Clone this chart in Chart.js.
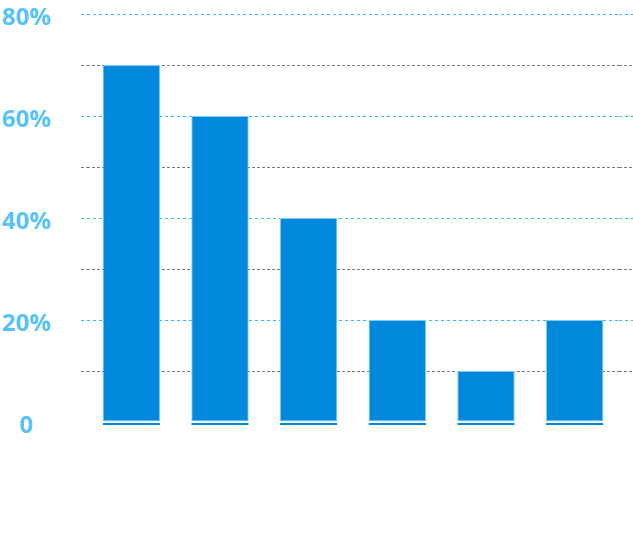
<!DOCTYPE html>
<html>
<head>
<meta charset="utf-8">
<script src="https://cdn.jsdelivr.net/npm/chart.js@4"></script>
<style>
  html, body { margin: 0; padding: 0; background: #ffffff; }
  #wrap { width: 633px; height: 542px; }
</style>
</head>
<body>
<div id="wrap"><canvas id="barChart"></canvas></div>
<script>
const categories = ["1", "2", "3", "4", "5", "6"];
const values = [70, 60, 40, 20, 10, 20];
const baseline = [0, 0, 0, 0, 0, 0];
const y_min = 0;
const y_max = 80;
const y_step = 10;
const labelled_ticks = [0, 20, 40, 60, 80];

const light_blue = "#3fb9f6";
const grey = "#7a7a7a";

function gridColor(ctx) {
  const v = ctx.tick.value;
  if (v === 0) return "rgba(0,0,0,0)";
  return v % 20 === 0 ? light_blue : grey;
}

function gridDash(ctx) {
  if (!ctx.tick) return [];
  return ctx.tick.value % 20 === 0 ? [3, 3] : [3, 2];
}

const ctx = document.getElementById("barChart");

new Chart(ctx, {
  type: "bar",
  data: {
    labels: categories,
    datasets: [
      {
        label: "Value",
        data: values,
        backgroundColor: "#0088dc",
        borderColor: "#7ccdf7",
        borderWidth: 1,
        borderSkipped: false,
        barPercentage: 0.81,
        categoryPercentage: 0.8,
        order: 1,
      },
      {
        label: "Base",
        data: baseline,
        base: -0.6,
        grouped: false,
        clip: false,
        backgroundColor: "#0088dc",
        borderColor: "#ffffff",
        borderWidth: { top: 1, left: 0, right: 0, bottom: 0 },
        borderSkipped: false,
        barPercentage: 0.81,
        categoryPercentage: 0.8,
        order: 2,
      },
    ],
  },
  options: {
    responsive: true,
    maintainAspectRatio: false,
    animation: false,
    layout: {
      padding: { top: 14, bottom: 120, left: 0, right: 0 },
    },
    plugins: {
      legend: { display: false },
      tooltip: { enabled: false },
    },
    scales: {
      x: {
        display: false,
        offset: true,
        grid: { display: false },
      },
      y: {
        position: "left",
        min: y_min,
        max: y_max,
        border: { display: false, dash: gridDash },
        afterFit: function (scale) {
          scale.width = 87;
          scale.paddingTop = 0;
          scale.paddingBottom = 0;
        },
        grid: {
          color: gridColor,
          tickColor: gridColor,
          tickBorderDash: gridDash,
          lineWidth: 1,
          drawTicks: true,
          tickLength: 6,
        },
        ticks: {
          stepSize: y_step,
          crossAlign: "center",
          padding: 30,
          labelOffset: 4,
          color: "#56c1fb",
          font: { family: "'Open Sans'", size: 24, weight: "bold" },
          callback: function (value) {
            if (!labelled_ticks.includes(value)) return "";
            return value === 0 ? "0" : value + "%";
          },
        },
      },
      y2: {
        position: "right",
        min: y_min,
        max: y_max,
        border: { display: false },
        afterFit: function (scale) {
          scale.width = 14;
          scale.paddingTop = 0;
          scale.paddingBottom = 0;
        },
        grid: {
          drawOnChartArea: false,
          drawTicks: true,
          tickLength: 14,
          tickColor: gridColor,
          tickBorderDash: gridDash,
        },
        ticks: {
          stepSize: y_step,
          display: false,
        },
      },
    },
  },
});
</script>
</body>
</html>
